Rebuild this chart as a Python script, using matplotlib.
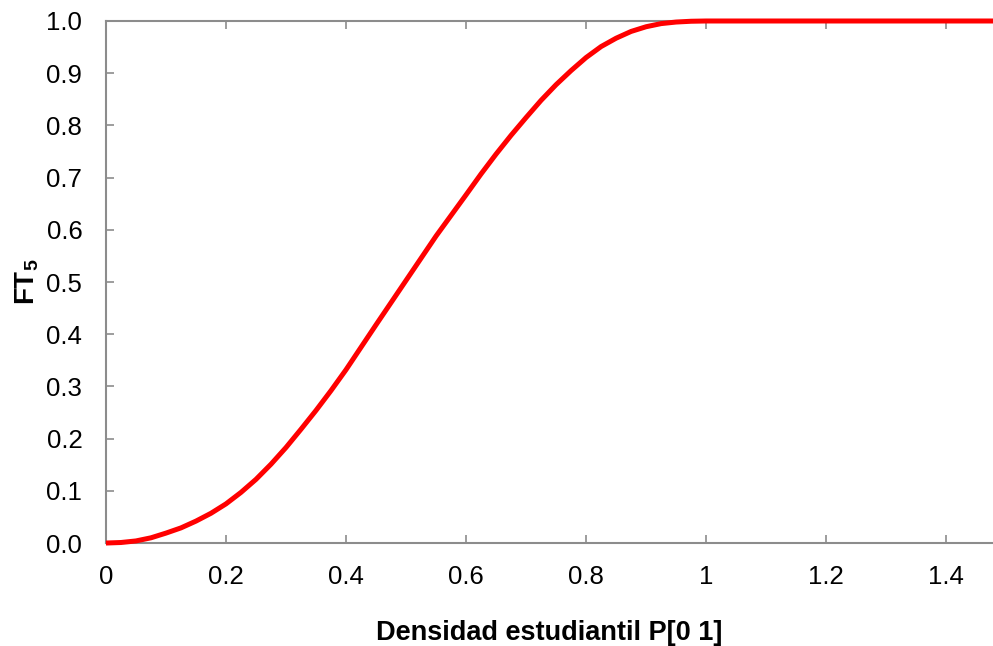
import matplotlib
matplotlib.use("Agg")
import matplotlib.pyplot as plt

# --- DATA ---
densidad = [0.0, 0.025, 0.05, 0.075, 0.10, 0.125, 0.15, 0.175, 0.20, 0.225,
            0.25, 0.275, 0.30, 0.325, 0.35, 0.375, 0.40, 0.45, 0.50, 0.55,
            0.60, 0.625, 0.65, 0.675, 0.70, 0.725, 0.75, 0.775, 0.80, 0.825,
            0.85, 0.875, 0.90, 0.925, 0.95, 0.975, 1.00, 1.48]
ft5 = [0.0, 0.001, 0.004, 0.010, 0.019, 0.029, 0.042, 0.057, 0.075, 0.097,
       0.122, 0.151, 0.183, 0.218, 0.254, 0.292, 0.332, 0.418, 0.503, 0.588,
       0.667, 0.707, 0.745, 0.781, 0.815, 0.848, 0.878, 0.905, 0.930, 0.951,
       0.967, 0.980, 0.989, 0.995, 0.998, 0.9995, 1.0, 1.0]
x_ticks = [0, 0.2, 0.4, 0.6, 0.8, 1.0, 1.2, 1.4]
x_tick_labels = ["0", "0.2", "0.4", "0.6", "0.8", "1", "1.2", "1.4"]
y_ticks = [0.0, 0.1, 0.2, 0.3, 0.4, 0.5, 0.6, 0.7, 0.8, 0.9, 1.0]

plt.rcParams['font.family'] = ['Liberation Sans', 'DejaVu Sans']
plt.rcParams['mathtext.fontset'] = 'custom'
plt.rcParams['mathtext.rm'] = 'Liberation Sans'
plt.rcParams['mathtext.bf'] = 'Liberation Sans:bold'

fig = plt.figure(figsize=(9.93, 6.46), dpi=100)
ax = fig.add_axes([0.1067, 0.1594, 0.8933, 0.8081])

ax.plot(densidad, ft5, color='#ff0000', lw=3.6, solid_capstyle='butt',
        solid_joinstyle='round', clip_on=False, zorder=3)

ax.set_xlim(0, 1.478)
ax.set_ylim(0, 1.0)
ax.set_xticks(x_ticks)
ax.set_xticklabels(x_tick_labels)
ax.set_yticks(y_ticks)
ax.set_yticklabels([f"{v:.1f}" for v in y_ticks])

grey = '#8c8c8c'
for side in ['left', 'top', 'bottom']:
    ax.spines[side].set_color(grey)
    ax.spines[side].set_linewidth(1.5)
ax.spines['right'].set_visible(False)

ax.tick_params(axis='x', direction='in', length=6, width=1.2, color=grey,
               top=True, labelsize=18.5, pad=16)
ax.tick_params(axis='y', direction='in', length=6, width=1.2, color=grey,
               right=False, labelsize=18.5, pad=17)

ax.set_xlabel("Densidad estudiantil P[0 1]", fontsize=19.5, fontweight='bold', labelpad=22)
ax.set_ylabel(r"$\mathbf{FT_5}$", fontsize=20, labelpad=4)

fig.savefig("out.png", dpi=100)
